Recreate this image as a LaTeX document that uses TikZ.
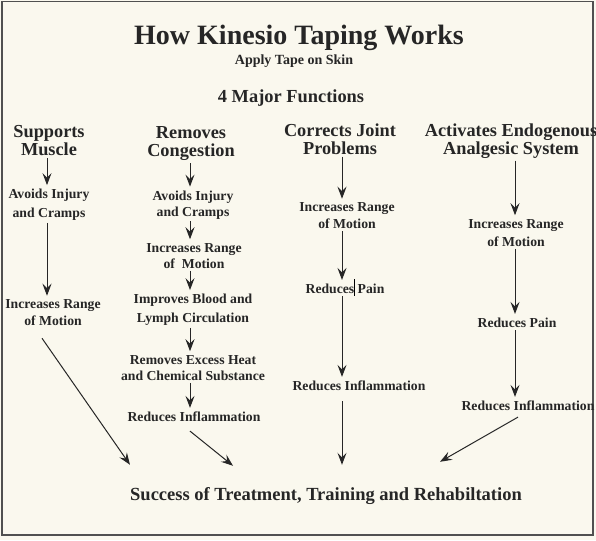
\documentclass[tikz,border=0pt]{standalone}
\usepackage{fontspec}
\setmainfont{Liberation Serif}
\usetikzlibrary{arrows.meta}
\definecolor{paper}{HTML}{FAF8EE}
\definecolor{ink}{HTML}{262626}
\definecolor{framec}{HTML}{505050}
\tikzset{
 txt/.style={inner sep=0pt, align=center, text=ink},
 ttl/.style={txt, font=\fontsize{28}{32}\selectfont\bfseries},
 sub/.style={txt, font=\fontsize{14}{16}\selectfont\bfseries},
 fun/.style={txt, font=\fontsize{18.4}{20}\selectfont\bfseries},
 hdr/.style={txt, font=\fontsize{18.3}{18}\selectfont\bfseries},
 item/.style={txt, font=\fontsize{13.7}{17}\selectfont\bfseries},
 res/.style={txt, font=\fontsize{18.5}{20}\selectfont\bfseries},
 arr/.style={draw=ink, line width=1pt, -{Stealth[length=12pt,width=9pt,inset=4.5pt]}, shorten <=2pt, shorten >=4pt},
}
\begin{document}
\begin{tikzpicture}[x=1pt,y=-1pt]
\fill[paper] (0,0) rectangle (596,540);
\useasboundingbox (0,0) rectangle (596,540);
\draw[framec, line width=1.6pt] (2,1.5) rectangle (593,535);

% titles
\node[ttl, anchor=base] (title) at (299,45) {How Kinesio Taping Works};
\node[sub, anchor=base] (apply) at (294,65) {Apply Tape on Skin};
\node[fun, anchor=base] (four) at (291,103) {4 Major Functions};

% column x positions
\coordinate (xa) at (47,0);
\coordinate (xb) at (190,0);
\coordinate (xc) at (342,0);
\coordinate (xd) at (515,0);

% headers
\node[hdr] (h1) at (49,141) {Supports\\Muscle};
\node[hdr] (h2) at (191,144) {Removes\\Congestion};
\node[hdr] (h3) at (340,139) {Corrects Joint\\Problems};
\node[hdr] (h4) at (511,141) {Activates Endogenous\\Analgesic System};

% supports column
\node[item, font=\fontsize{13.7}{19}\selectfont\bfseries] (s1) at (49,205) {Avoids Injury\\and Cramps};
\node[item] (s2) at (53,313) {Increases Range\\of Motion};

% removes column
\node[item, font=\fontsize{13.7}{16}\selectfont\bfseries] (r1) at (193,205) {Avoids Injury\\and Cramps};
\node[item, font=\fontsize{13.7}{16}\selectfont\bfseries] (r2) at (194,256) {Increases Range\\of\ \ Motion};
\node[item, font=\fontsize{13.7}{19}\selectfont\bfseries] (r3) at (193,310) {Improves Blood and\\Lymph Circulation};
\node[item, font=\fontsize{13.7}{16}\selectfont\bfseries] (r4) at (193,368) {Removes Excess Heat\\and Chemical Substance};
\node[item] (r5) at (194,417) {Reduces Inflammation};

% corrects column
\node[item] (c1) at (347,216) {Increases Range\\of Motion};
\node[item] (c2) at (345,289) {Reduces Pain};
\node[item] (c3) at (359,386) {Reduces Inflammation};

% activates column
\node[item, font=\fontsize{13.7}{18}\selectfont\bfseries] (a1) at (516,233) {Increases Range\\of Motion};
\node[item] (a2) at (517,323) {Reduces Pain};
\node[item] (a3) at (528,406) {Reduces Inflammation};

% result
\node[res, anchor=base] (succ) at (326,500) {Success of Treatment, Training and Rehabiltation};

% vertical arrows
\draw[arr] (h1.south -| xa) -- (s1.north -| xa);
\draw[arr] (s1.south -| xa) -- (s2.north -| xa);
\draw[arr] (h2.south -| xb) -- (r1.north -| xb);
\draw[arr] (r1.south -| xb) -- (r2.north -| xb);
\draw[arr] (r2.south -| xb) -- (r3.north -| xb);
\draw[arr] (r3.south -| xb) -- (r4.north -| xb);
\draw[arr] (r4.south -| xb) -- (r5.north -| xb);
\draw[arr] (h3.south -| xc) -- (c1.north -| xc);
\draw[arr] (c1.south -| xc) -- (c2.north -| xc);
\draw[arr] (c2.south -| xc) -- (c3.north -| xc);
\draw[arr] (h4.south -| xd) -- (a1.north -| xd);
\draw[arr] (a1.south -| xd) -- (a2.north -| xd);
\draw[arr] (a2.south -| xd) -- (a3.north -| xd);

% arrows into result
\draw[arr, shorten <=0pt, shorten >=0pt] ([shift={(-11pt,-12pt)}]s2.south) -- ([shift={(-196pt,22pt)}]succ.north);
\draw[arr, shorten <=0pt, shorten >=0pt] ([shift={(-4pt,-9pt)}]r5.south) -- ([shift={(-93pt,21pt)}]succ.north);
\draw[arr, shorten <=0pt, shorten >=0pt] ([shift={(-17pt,-10pt)}]c3.south) -- ([shift={(16pt,22pt)}]succ.north);
\draw[arr, shorten <=0pt, shorten >=0pt] ([shift={(-10pt,-6pt)}]a3.south) -- ([shift={(114pt,25pt)}]succ.north);

% stray cursor mark
\draw[black, line width=0.7pt] (354,279) -- (354,296);
\end{tikzpicture}
\end{document}
